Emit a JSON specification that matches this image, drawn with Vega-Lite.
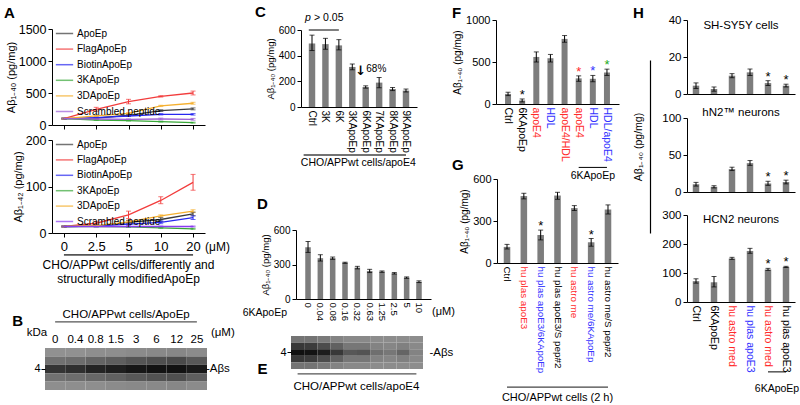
{
"$schema":"https://vega.github.io/schema/vega-lite/v6.json",
"width":800,"height":405,"autosize":{"type":"none"},"padding":0,"background":"white",
"config":{"view":{"stroke":null},"font":"Liberation Sans",
 "axis":{"grid":false,"domainColor":"#000","tickColor":"#000","labelColor":"#000","titleColor":"#000","titleFontWeight":"normal","domainWidth":1,"tickWidth":1},
 "text":{"color":"#000"}},
"datasets":{
"a40":[
{"series":"ApoEp","dose":"0","mean":100,"lo":92,"hi":108},{"series":"ApoEp","dose":"2.5","mean":108,"lo":98,"hi":118},{"series":"ApoEp","dose":"5","mean":152,"lo":142,"hi":162},{"series":"ApoEp","dose":"10","mean":225,"lo":212,"hi":238},{"series":"ApoEp","dose":"20","mean":252,"lo":237,"hi":267},
{"series":"FlagApoEp","dose":"0","mean":100,"lo":92,"hi":108},{"series":"FlagApoEp","dose":"2.5","mean":246,"lo":216,"hi":276},{"series":"FlagApoEp","dose":"5","mean":366,"lo":331,"hi":401},{"series":"FlagApoEp","dose":"10","mean":447,"lo":437,"hi":457},{"series":"FlagApoEp","dose":"20","mean":500,"lo":470,"hi":530},
{"series":"BiotinApoEp","dose":"0","mean":100,"lo":94,"hi":106},{"series":"BiotinApoEp","dose":"2.5","mean":115,"lo":108,"hi":122},{"series":"BiotinApoEp","dose":"5","mean":141,"lo":133,"hi":149},{"series":"BiotinApoEp","dose":"10","mean":167,"lo":157,"hi":177},{"series":"BiotinApoEp","dose":"20","mean":167,"lo":155,"hi":179},
{"series":"3KApoEp","dose":"0","mean":100,"lo":94,"hi":106},{"series":"3KApoEp","dose":"2.5","mean":78,"lo":72,"hi":84},{"series":"3KApoEp","dose":"5","mean":68,"lo":62,"hi":74},{"series":"3KApoEp","dose":"10","mean":52,"lo":46,"hi":58},{"series":"3KApoEp","dose":"20","mean":37,"lo":30,"hi":44},
{"series":"3DApoEp","dose":"0","mean":100,"lo":94,"hi":106},{"series":"3DApoEp","dose":"2.5","mean":141,"lo":132,"hi":150},{"series":"3DApoEp","dose":"5","mean":183,"lo":173,"hi":193},{"series":"3DApoEp","dose":"10","mean":298,"lo":288,"hi":308},{"series":"3DApoEp","dose":"20","mean":340,"lo":325,"hi":355},
{"series":"Scrambled peptide","dose":"0","mean":100,"lo":94,"hi":106},{"series":"Scrambled peptide","dose":"2.5","mean":94,"lo":88,"hi":100},{"series":"Scrambled peptide","dose":"5","mean":89,"lo":83,"hi":95},{"series":"Scrambled peptide","dose":"10","mean":94,"lo":80,"hi":108},{"series":"Scrambled peptide","dose":"20","mean":89,"lo":75,"hi":103}],
"a42":[
{"series":"ApoEp","dose":"0","mean":14,"lo":13,"hi":15},{"series":"ApoEp","dose":"2.5","mean":15,"lo":14,"hi":16},{"series":"ApoEp","dose":"5","mean":23,"lo":19,"hi":27},{"series":"ApoEp","dose":"10","mean":29,"lo":25,"hi":33},{"series":"ApoEp","dose":"20","mean":41,"lo":37,"hi":45},
{"series":"FlagApoEp","dose":"0","mean":14,"lo":13,"hi":15},{"series":"FlagApoEp","dose":"2.5","mean":21,"lo":17,"hi":25},{"series":"FlagApoEp","dose":"5","mean":39,"lo":31,"hi":47},{"series":"FlagApoEp","dose":"10","mean":70,"lo":63,"hi":78},{"series":"FlagApoEp","dose":"20","mean":109,"lo":92,"hi":126},
{"series":"BiotinApoEp","dose":"0","mean":14,"lo":13,"hi":15},{"series":"BiotinApoEp","dose":"2.5","mean":15,"lo":14,"hi":16},{"series":"BiotinApoEp","dose":"5","mean":19,"lo":17,"hi":21},{"series":"BiotinApoEp","dose":"10","mean":23,"lo":20,"hi":26},{"series":"BiotinApoEp","dose":"20","mean":33,"lo":29,"hi":37},
{"series":"3KApoEp","dose":"0","mean":14,"lo":13,"hi":15},{"series":"3KApoEp","dose":"2.5","mean":14,"lo":13,"hi":15},{"series":"3KApoEp","dose":"5","mean":13,"lo":12,"hi":14},{"series":"3KApoEp","dose":"10","mean":11,"lo":10,"hi":12},{"series":"3KApoEp","dose":"20","mean":9,"lo":8,"hi":10},
{"series":"3DApoEp","dose":"0","mean":14,"lo":13,"hi":15},{"series":"3DApoEp","dose":"2.5","mean":16,"lo":15,"hi":17},{"series":"3DApoEp","dose":"5","mean":24,"lo":22,"hi":26},{"series":"3DApoEp","dose":"10","mean":37,"lo":35,"hi":39},{"series":"3DApoEp","dose":"20","mean":47,"lo":44,"hi":50},
{"series":"Scrambled peptide","dose":"0","mean":14,"lo":13,"hi":15},{"series":"Scrambled peptide","dose":"2.5","mean":14,"lo":13,"hi":15},{"series":"Scrambled peptide","dose":"5","mean":14,"lo":13,"hi":15},{"series":"Scrambled peptide","dose":"10","mean":14,"lo":13,"hi":15},{"series":"Scrambled peptide","dose":"20","mean":14,"lo":13,"hi":15}],
"blotB":[
{"lane":"0","strip":"s1","v":0.10},{"lane":"0","strip":"s2","v":0.30},{"lane":"0","strip":"s3","v":0.70},{"lane":"0","strip":"s4","v":0.30},{"lane":"0","strip":"s5","v":0.12},
{"lane":"0.4","strip":"s1","v":0.10},{"lane":"0.4","strip":"s2","v":0.32},{"lane":"0.4","strip":"s3","v":0.74},{"lane":"0.4","strip":"s4","v":0.32},{"lane":"0.4","strip":"s5","v":0.12},
{"lane":"0.8","strip":"s1","v":0.12},{"lane":"0.8","strip":"s2","v":0.38},{"lane":"0.8","strip":"s3","v":0.82},{"lane":"0.8","strip":"s4","v":0.36},{"lane":"0.8","strip":"s5","v":0.12},
{"lane":"1.5","strip":"s1","v":0.12},{"lane":"1.5","strip":"s2","v":0.42},{"lane":"1.5","strip":"s3","v":0.86},{"lane":"1.5","strip":"s4","v":0.40},{"lane":"1.5","strip":"s5","v":0.14},
{"lane":"3","strip":"s1","v":0.14},{"lane":"3","strip":"s2","v":0.48},{"lane":"3","strip":"s3","v":0.92},{"lane":"3","strip":"s4","v":0.46},{"lane":"3","strip":"s5","v":0.15},
{"lane":"6","strip":"s1","v":0.15},{"lane":"6","strip":"s2","v":0.52},{"lane":"6","strip":"s3","v":0.95},{"lane":"6","strip":"s4","v":0.50},{"lane":"6","strip":"s5","v":0.15},
{"lane":"12","strip":"s1","v":0.16},{"lane":"12","strip":"s2","v":0.55},{"lane":"12","strip":"s3","v":0.96},{"lane":"12","strip":"s4","v":0.52},{"lane":"12","strip":"s5","v":0.16},
{"lane":"25","strip":"s1","v":0.14},{"lane":"25","strip":"s2","v":0.46},{"lane":"25","strip":"s3","v":0.90},{"lane":"25","strip":"s4","v":0.42},{"lane":"25","strip":"s5","v":0.14}],
"blotE":[
{"lane":"0","strip":"s1","v":0.22},{"lane":"0","strip":"s2","v":0.65},{"lane":"0","strip":"s3","v":0.97},{"lane":"0","strip":"s4","v":0.65},{"lane":"0","strip":"s5","v":0.22},
{"lane":"0.04","strip":"s1","v":0.22},{"lane":"0.04","strip":"s2","v":0.62},{"lane":"0.04","strip":"s3","v":0.95},{"lane":"0.04","strip":"s4","v":0.62},{"lane":"0.04","strip":"s5","v":0.22},
{"lane":"0.08","strip":"s1","v":0.18},{"lane":"0.08","strip":"s2","v":0.50},{"lane":"0.08","strip":"s3","v":0.86},{"lane":"0.08","strip":"s4","v":0.50},{"lane":"0.08","strip":"s5","v":0.18},
{"lane":"0.16","strip":"s1","v":0.12},{"lane":"0.16","strip":"s2","v":0.35},{"lane":"0.16","strip":"s3","v":0.65},{"lane":"0.16","strip":"s4","v":0.35},{"lane":"0.16","strip":"s5","v":0.12},
{"lane":"0.32","strip":"s1","v":0.08},{"lane":"0.32","strip":"s2","v":0.20},{"lane":"0.32","strip":"s3","v":0.42},{"lane":"0.32","strip":"s4","v":0.20},{"lane":"0.32","strip":"s5","v":0.08},
{"lane":"0.63","strip":"s1","v":0.08},{"lane":"0.63","strip":"s2","v":0.20},{"lane":"0.63","strip":"s3","v":0.45},{"lane":"0.63","strip":"s4","v":0.20},{"lane":"0.63","strip":"s5","v":0.08},
{"lane":"1.25","strip":"s1","v":0.06},{"lane":"1.25","strip":"s2","v":0.12},{"lane":"1.25","strip":"s3","v":0.25},{"lane":"1.25","strip":"s4","v":0.12},{"lane":"1.25","strip":"s5","v":0.06},
{"lane":"2.5","strip":"s1","v":0.06},{"lane":"2.5","strip":"s2","v":0.10},{"lane":"2.5","strip":"s3","v":0.20},{"lane":"2.5","strip":"s4","v":0.10},{"lane":"2.5","strip":"s5","v":0.06},
{"lane":"5","strip":"s1","v":0.06},{"lane":"5","strip":"s2","v":0.14},{"lane":"5","strip":"s3","v":0.32},{"lane":"5","strip":"s4","v":0.14},{"lane":"5","strip":"s5","v":0.06},
{"lane":"10","strip":"s1","v":0.05},{"lane":"10","strip":"s2","v":0.08},{"lane":"10","strip":"s3","v":0.12},{"lane":"10","strip":"s4","v":0.08},{"lane":"10","strip":"s5","v":0.05}],
"c":[{"cat":"Ctrl","mean":495,"lo":440,"hi":560},{"cat":"3K","mean":490,"lo":450,"hi":535},{"cat":"6K","mean":480,"lo":445,"hi":525},{"cat":"3KApoEp","mean":312,"lo":290,"hi":335},{"cat":"6KApoEp","mean":155,"lo":147,"hi":165},{"cat":"7KApoEp","mean":190,"lo":150,"hi":230},{"cat":"8KApoEp","mean":140,"lo":128,"hi":152},{"cat":"9KApoEp","mean":128,"lo":117,"hi":140}],
"d":[{"conc":"0","mean":450,"lo":405,"hi":500},{"conc":"0.04","mean":355,"lo":330,"hi":385},{"conc":"0.08","mean":355,"lo":345,"hi":365},{"conc":"0.16","mean":316,"lo":310,"hi":320},{"conc":"0.32","mean":273,"lo":262,"hi":284},{"conc":"0.63","mean":244,"lo":230,"hi":258},{"conc":"1.25","mean":238,"lo":232,"hi":244},{"conc":"2.5","mean":223,"lo":217,"hi":230},{"conc":"5","mean":186,"lo":180,"hi":192},{"conc":"10","mean":150,"lo":143,"hi":158}],
"f":[{"cat":"Ctrl","mean":120,"lo":100,"hi":140,"star":""},{"cat":"6KApoEp","mean":42,"lo":25,"hi":60,"star":"*"},{"cat":"apoE4","mean":560,"lo":500,"hi":620,"star":""},{"cat":"HDL","mean":545,"lo":500,"hi":590,"star":""},{"cat":"apoE4/HDL","mean":775,"lo":735,"hi":815,"star":""},{"cat":"apoE4|2","mean":305,"lo":270,"hi":335,"star":"*"},{"cat":"HDL|2","mean":300,"lo":265,"hi":340,"star":"*"},{"cat":"HDL/apoE4","mean":375,"lo":340,"hi":415,"star":"*"}],
"g":[{"cat":"Ctrl","mean":115,"lo":100,"hi":133,"star":""},{"cat":"hu plas apoE3","mean":478,"lo":458,"hi":498,"star":""},{"cat":"hu plas apoE3/6KApoEp","mean":200,"lo":165,"hi":235,"star":"*"},{"cat":"hu plas apoE3/S pep#2","mean":482,"lo":455,"hi":505,"star":""},{"cat":"hu astro me","mean":392,"lo":375,"hi":410,"star":""},{"cat":"hu astro me/6KApoEp","mean":148,"lo":120,"hi":175,"star":"*"},{"cat":"hu astro me/S pep#2","mean":382,"lo":350,"hi":415,"star":""}],
"h1":[{"cat":"Ctrl","mean":4.5,"lo":3,"hi":6,"star":""},{"cat":"6KApoEp","mean":2.7,"lo":1.5,"hi":3.8,"star":""},{"cat":"hu astro med","mean":9.9,"lo":8.8,"hi":11,"star":""},{"cat":"hu plas apoE3","mean":11.7,"lo":10,"hi":13.5,"star":""},{"cat":"hu astro med|2","mean":5.9,"lo":4.6,"hi":7.2,"star":"*"},{"cat":"hu plas apoE3|2","mean":4.5,"lo":3.8,"hi":5.3,"star":"*"}],
"h2":[{"cat":"Ctrl","mean":10.5,"lo":8,"hi":13,"star":""},{"cat":"6KApoEp","mean":7,"lo":5.5,"hi":8.5,"star":""},{"cat":"hu astro med","mean":31,"lo":29,"hi":33.5,"star":""},{"cat":"hu plas apoE3","mean":39,"lo":36,"hi":42.5,"star":""},{"cat":"hu astro med|2","mean":11.5,"lo":9,"hi":14.5,"star":"*"},{"cat":"hu plas apoE3|2","mean":13.5,"lo":11,"hi":16,"star":"*"}],
"h3":[{"cat":"Ctrl","mean":72,"lo":65,"hi":80,"star":""},{"cat":"6KApoEp","mean":68,"lo":52,"hi":88,"star":""},{"cat":"hu astro med","mean":150,"lo":147,"hi":154,"star":""},{"cat":"hu plas apoE3","mean":176,"lo":168,"hi":185,"star":""},{"cat":"hu astro med|2","mean":112,"lo":109,"hi":116,"star":"*"},{"cat":"hu plas apoE3|2","mean":121,"lo":119,"hi":123,"star":"*"}]
},
"resolve":{"scale":{"x":"independent","y":"independent","color":"independent","fill":"independent"},"axis":{"x":"independent","y":"independent"},"legend":{"color":"independent"}},
"layer":[
{"data":{"name":"a40"},
 "encoding":{"color":{"field":"series","type":"nominal","scale":{"domain":["ApoEp","FlagApoEp","BiotinApoEp","3KApoEp","3DApoEp","Scrambled peptide"],"range":["#3a3a3a","#f23c3c","#2828f0","#38a838","#f5b030","#9b5fd6"]},"legend":{"orient":"none","legendX":55,"legendY":24,"title":null,"symbolType":"stroke","symbolSize":300,"symbolStrokeWidth":1.5,"labelFontSize":10,"rowPadding":0.6,"labelOffset":3,"labelColor":"#000","padding":0}}},
 "layer":[
 {"mark":{"type":"errorbar","ticks":{"size":5},"thickness":1},
  "encoding":{"x":{"field":"dose","type":"ordinal","sort":null,"scale":{"type":"point","domain":["0","2.5","5","10","20"],"range":[52,205],"padding":0.37},"axis":{"orient":"bottom","offset":-280,"labels":false,"ticks":true,"tickSize":4,"title":null}},
   "y":{"field":"lo","type":"quantitative","title":"Aβ₁₋₄₀ (pg/mg)","scale":{"domain":[0,1500],"range":[125,29],"nice":false},"axis":{"orient":"left","offset":-52,"values":[0,500,1000,1500],"format":"d","labelFontSize":12.5,"titleFontSize":11,"tickSize":4,"titlePadding":2}},
   "y2":{"field":"hi"}}},
 {"mark":{"type":"line","strokeWidth":1.3},
  "encoding":{"x":{"field":"dose","type":"ordinal","sort":null},"y":{"field":"mean","type":"quantitative","title":"Aβ₁₋₄₀ (pg/mg)"}}},
 {"data":{"values":[{}]},"mark":{"type":"text","text":"A","fontSize":15,"fontWeight":"bold","align":"left","dx":-60},
  "encoding":{"x":{"datum":"0","type":"ordinal"},"y":{"datum":1750,"type":"quantitative"},"color":{"value":"#000"}}}
 ]},
{"data":{"name":"a42"},
 "encoding":{"color":{"field":"series","type":"nominal","scale":{"domain":["ApoEp","FlagApoEp","BiotinApoEp","3KApoEp","3DApoEp","Scrambled peptide"],"range":["#3a3a3a","#f23c3c","#2828f0","#38a838","#f5b030","#8a3cf0"]},"legend":{"orient":"none","legendX":55,"legendY":135,"title":null,"symbolType":"stroke","symbolSize":300,"symbolStrokeWidth":1.5,"labelFontSize":10,"rowPadding":0.4,"labelOffset":3,"labelColor":"#000","padding":0}}},
 "layer":[
 {"mark":{"type":"errorbar","ticks":{"size":5},"thickness":1},
  "encoding":{"x":{"field":"dose","type":"ordinal","sort":null,"scale":{"type":"point","domain":["0","2.5","5","10","20"],"range":[52,205],"padding":0.37},"axis":{"orient":"bottom","offset":-172,"labelAngle":0,"labelFontSize":13,"ticks":true,"tickSize":4,"labelPadding":3,"title":null}},
   "y":{"field":"lo","type":"quantitative","title":"Aβ₁₋₄₂ (pg/mg)","scale":{"domain":[0,200],"range":[233,140],"nice":false},"axis":{"orient":"left","offset":-52,"values":[0,100,200],"format":"d","labelFontSize":12.5,"titleFontSize":11,"tickSize":4,"titlePadding":2}},
   "y2":{"field":"hi"}}},
 {"mark":{"type":"line","strokeWidth":1.3},
  "encoding":{"x":{"field":"dose","type":"ordinal","sort":null},"y":{"field":"mean","type":"quantitative","title":"Aβ₁₋₄₂ (pg/mg)"}}},
 {"data":{"values":[{}]},"mark":{"type":"rule","color":"#555","strokeWidth":1.6},
  "encoding":{"x":{"datum":"0","type":"ordinal"},"x2":{"datum":"20"},"y":{"datum":-47,"type":"quantitative"},"color":{"value":"#555"}}},
 {"data":{"values":[{}]},"mark":{"type":"text","text":["CHO/APPwt cells/differently  and","structurally  modifiedApoEp"],"fontSize":12,"baseline":"top","lineHeight":14},
  "encoding":{"x":{"datum":"5","type":"ordinal"},"y":{"datum":-58,"type":"quantitative"},"color":{"value":"#000"}}},
 {"data":{"values":[{}]},"mark":{"type":"text","text":"(μM)","fontSize":12,"align":"left","dx":12,"baseline":"middle"},
  "encoding":{"x":{"datum":"20","type":"ordinal"},"y":{"datum":-30,"type":"quantitative"},"color":{"value":"#000"}}}
 ]},
{"data":{"name":"blotB"},"mark":{"type":"rect"},
 "encoding":{"x":{"field":"lane","type":"ordinal","sort":null,"scale":{"type":"band","domain":["0","0.4","0.8","1.5","3","6","12","25"],"range":[45,207],"paddingInner":0,"paddingOuter":0},"axis":{"orient":"top","offset":-348,"domain":false,"ticks":false,"labelPadding":4,"labelAngle":0,"labelFontSize":11.5,"title":null}},
  "y":{"field":"strip","type":"ordinal","scale":{"type":"band","domain":["s1","s2","s3","s4","s5"],"range":[348,390],"paddingInner":0,"paddingOuter":0},"axis":{"orient":"left","offset":-45,"values":["s3"],"labelExpr":"'4'","tickSize":4,"domain":false,"title":null,"labelFontSize":11,"labelPadding":1}},
  "fill":{"field":"v","type":"quantitative","scale":{"domain":[0,1],"range":["#a2a2a2","#0a0a0a"]},"legend":null}}},
{"data":{"values":[{}]},
 "encoding":{"x":{"datum":"0","type":"ordinal","scale":{"type":"band","domain":["0","0.4","0.8","1.5","3","6","12","25"],"range":[45,207],"paddingInner":0,"paddingOuter":0},"axis":null},
  "y":{"datum":1.62,"type":"quantitative","scale":{"domain":[0,1],"range":[390,348]},"axis":null}},
 "layer":[
 {"mark":{"type":"rule","color":"#555","strokeWidth":1.3},"encoding":{"x2":{"datum":"25"}}},
 {"mark":{"type":"text","text":"CHO/APPwt cells/ApoEp","fontSize":11.5,"baseline":"middle","dx":71},"encoding":{"y":{"datum":1.79,"type":"quantitative"}}},
 {"mark":{"type":"text","text":"kDa","fontSize":11.5,"baseline":"middle","align":"right","dx":-8},"encoding":{"y":{"datum":1.36,"type":"quantitative"}}},
 {"mark":{"type":"text","text":"(μM)","fontSize":11.5,"baseline":"middle","align":"left","dx":14},"encoding":{"x":{"datum":"25","type":"ordinal"},"y":{"datum":1.36,"type":"quantitative"}}},
 {"mark":{"type":"text","text":"-Aβs","fontSize":11.5,"baseline":"middle","align":"left","dx":9},"encoding":{"x":{"datum":"25","type":"ordinal"},"y":{"datum":0.5,"type":"quantitative"}}},
 {"mark":{"type":"text","text":"B","fontSize":15,"fontWeight":"bold","align":"left","dx":-43},"encoding":{"y":{"datum":1.64,"type":"quantitative"}}}
 ]},
{"data":{"name":"c"},
 "layer":[
 {"mark":{"type":"bar","color":"#7d7d7d"},
  "encoding":{"x":{"field":"cat","type":"nominal","sort":null,"scale":{"range":[301,417],"paddingInner":0.52,"paddingOuter":0.58},"axis":{"orient":"bottom","offset":-298,"labelAngle":90,"ticks":false,"labelFontSize":10,"labelPadding":3,"title":null}},
   "y":{"field":"mean","type":"quantitative","title":"Aβ₁₋₄₀ (pg/mg)","scale":{"domain":[0,600],"range":[107,30],"nice":false},"axis":{"orient":"left","offset":-301,"values":[0,200,400,600],"labelFontSize":10,"titleFontSize":9.5,"tickSize":4,"titlePadding":3}}}},
 {"mark":{"type":"errorbar","ticks":{"size":5},"color":"#000"},
  "encoding":{"x":{"field":"cat","type":"nominal","sort":null},"y":{"field":"lo","type":"quantitative","title":"Aβ₁₋₄₀ (pg/mg)"},"y2":{"field":"hi"}}},
 {"data":{"values":[{}]},"mark":{"type":"rule","color":"#000"},"encoding":{"x":{"datum":"Ctrl","type":"nominal","bandPosition":0},"x2":{"datum":"6K"},"y":{"datum":600,"type":"quantitative"}}},
 {"data":{"values":[{}]},"mark":{"type":"text","text":"p","fontSize":10.5,"fontStyle":"italic","baseline":"middle","align":"left","dx":-7},"encoding":{"x":{"datum":"Ctrl","type":"nominal"},"y":{"datum":693,"type":"quantitative"}}},
 {"data":{"values":[{}]},"mark":{"type":"text","text":"> 0.05","fontSize":10.5,"baseline":"middle","align":"left","dx":2},"encoding":{"x":{"datum":"Ctrl","type":"nominal"},"y":{"datum":693,"type":"quantitative"}}},
 {"data":{"values":[{}]},"mark":{"type":"text","text":"↓","fontSize":13,"fontWeight":"bold","font":"DejaVu Sans","baseline":"middle","align":"left","dx":3},"encoding":{"x":{"datum":"3KApoEp","type":"nominal"},"y":{"datum":280,"type":"quantitative"}}},
 {"data":{"values":[{}]},"mark":{"type":"text","text":"68%","fontSize":10,"baseline":"middle","align":"left","dx":14},"encoding":{"x":{"datum":"3KApoEp","type":"nominal"},"y":{"datum":300,"type":"quantitative"}}},
 {"data":{"values":[{}]},"mark":{"type":"rule","color":"#444","strokeWidth":1.3},"encoding":{"x":{"datum":"Ctrl","type":"nominal","bandPosition":-0.8},"x2":{"datum":"9KApoEp"},"y":{"datum":-374,"type":"quantitative"}}},
 {"data":{"values":[{}]},"mark":{"type":"text","text":"CHO/APPwt cells/apoE4","fontSize":10.5,"baseline":"middle","dx":6},"encoding":{"x":{"datum":"3KApoEp","type":"nominal"},"y":{"datum":-436,"type":"quantitative"}}},
 {"data":{"values":[{}]},"mark":{"type":"text","text":"C","fontSize":15,"fontWeight":"bold","align":"left","dx":-57},"encoding":{"x":{"datum":"Ctrl","type":"nominal"},"y":{"datum":740,"type":"quantitative"}}}
 ]},
{"data":{"name":"d"},
 "layer":[
 {"mark":{"type":"bar","color":"#7d7d7d"},
  "encoding":{"x":{"field":"conc","type":"nominal","sort":null,"scale":{"range":[296,431],"paddingInner":0.55,"paddingOuter":0.75},"axis":{"orient":"bottom","offset":-106,"labelAngle":90,"ticks":false,"labelFontSize":9.5,"labelPadding":3,"title":null}},
   "y":{"field":"mean","type":"quantitative","title":"Aβ₁₋₄₀ (pg/mg)","scale":{"domain":[0,600],"range":[299,230],"nice":false},"axis":{"orient":"left","offset":-296,"values":[0,300,600],"labelFontSize":10,"titleFontSize":9.5,"tickSize":4,"titlePadding":3}}}},
 {"mark":{"type":"errorbar","ticks":{"size":5},"color":"#000"},
  "encoding":{"x":{"field":"conc","type":"nominal","sort":null},"y":{"field":"lo","type":"quantitative","title":"Aβ₁₋₄₀ (pg/mg)"},"y2":{"field":"hi"}}},
 {"data":{"values":[{}]},"mark":{"type":"text","text":"6KApoEp","fontSize":10.5,"baseline":"middle","align":"right","dx":-21},"encoding":{"x":{"datum":"0","type":"nominal"},"y":{"datum":-122,"type":"quantitative"}}},
 {"data":{"values":[{}]},"mark":{"type":"text","text":"(μM)","fontSize":11,"baseline":"middle","align":"left","dx":13},"encoding":{"x":{"datum":"10","type":"nominal"},"y":{"datum":-115,"type":"quantitative"}}},
 {"data":{"values":[{}]},"mark":{"type":"text","text":"D","fontSize":15,"fontWeight":"bold","align":"left","dx":-51},"encoding":{"x":{"datum":"0","type":"nominal"},"y":{"datum":830,"type":"quantitative"}}}
 ]},
{"data":{"name":"blotE"},"mark":{"type":"rect"},
 "encoding":{"x":{"field":"lane","type":"ordinal","sort":null,"scale":{"type":"band","domain":["0","0.04","0.08","0.16","0.32","0.63","1.25","2.5","5","10"],"range":[291,423],"paddingInner":0,"paddingOuter":0},"axis":null},
  "y":{"field":"strip","type":"ordinal","scale":{"type":"band","domain":["s1","s2","s3","s4","s5"],"range":[336,369],"paddingInner":0,"paddingOuter":0},"axis":{"orient":"left","offset":-291,"values":["s3"],"labelExpr":"'4'","tickSize":4,"domain":false,"title":null,"labelFontSize":11,"labelPadding":1}},
  "fill":{"field":"v","type":"quantitative","scale":{"domain":[0,1],"range":["#959595","#0a0a0a"]},"legend":null}}},
{"data":{"values":[{}]},
 "encoding":{"x":{"datum":"0","type":"ordinal","scale":{"type":"band","domain":["0","0.04","0.08","0.16","0.32","0.63","1.25","2.5","5","10"],"range":[291,423],"paddingInner":0,"paddingOuter":0},"axis":null},
  "y":{"datum":-0.15,"type":"quantitative","scale":{"domain":[0,1],"range":[369,336]},"axis":null}},
 "layer":[
 {"mark":{"type":"rule","color":"#555","strokeWidth":1.3},"encoding":{"x2":{"datum":"10"}}},
 {"mark":{"type":"text","text":"CHO/APPwt cells/apoE4","fontSize":11.5,"baseline":"middle","dx":6},"encoding":{"x":{"datum":"0.32","type":"ordinal"},"y":{"datum":-0.55,"type":"quantitative"}}},
 {"mark":{"type":"text","text":"-Aβs","fontSize":11.5,"baseline":"middle","align":"left","dx":13},"encoding":{"x":{"datum":"10","type":"ordinal"},"y":{"datum":0.5,"type":"quantitative"}}},
 {"mark":{"type":"text","text":"E","fontSize":15,"fontWeight":"bold","align":"left","dx":-40},"encoding":{"y":{"datum":0,"type":"quantitative"}}}
 ]},
{"data":{"name":"f"},
 "layer":[
 {"mark":{"type":"bar","color":"#7d7d7d"},
  "encoding":{"x":{"field":"cat","type":"nominal","sort":null,"scale":{"range":[496,619],"paddingInner":0.576,"paddingOuter":0.64},"axis":{"orient":"bottom","offset":-301,"labelAngle":90,"ticks":false,"labelFontSize":10.5,"labelPadding":3,"title":null,"labelExpr":"split(datum.value,'|')[0]","labelColor":{"condition":[{"test":"indexof(datum.value,'apoE4')==0","value":"#ff2a2a"},{"test":"indexof(datum.value,'HDL')==0","value":"#3333ff"}],"value":"#000"}}},
   "y":{"field":"mean","type":"quantitative","title":"Aβ₁₋₄₀ (pg/mg)","scale":{"domain":[0,1000],"range":[104,20],"nice":false},"axis":{"orient":"left","offset":-496,"values":[0,500,1000],"format":"d","labelFontSize":11,"titleFontSize":10,"tickSize":4,"titlePadding":3}}}},
 {"mark":{"type":"errorbar","ticks":{"size":5},"color":"#000"},
  "encoding":{"x":{"field":"cat","type":"nominal","sort":null},"y":{"field":"lo","type":"quantitative","title":"Aβ₁₋₄₀ (pg/mg)"},"y2":{"field":"hi"}}},
 {"mark":{"type":"text","fontSize":13,"baseline":"alphabetic"},
  "encoding":{"x":{"field":"cat","type":"nominal","sort":null},"y":{"field":"hi","type":"quantitative"},"text":{"field":"star"},
   "color":{"condition":[{"test":"datum.cat=='apoE4|2'","value":"#ff2a2a"},{"test":"datum.cat=='HDL|2'","value":"#3333ff"},{"test":"datum.cat=='HDL/apoE4'","value":"#22aa22"}],"value":"#000"}}},
 {"data":{"values":[{}]},"mark":{"type":"rule","color":"#000"},"encoding":{"x":{"datum":"apoE4|2","type":"nominal"},"x2":{"datum":"HDL/apoE4"},"y":{"datum":-755,"type":"quantitative"}}},
 {"data":{"values":[{}]},"mark":{"type":"text","text":"6KApoEp","fontSize":10.5,"baseline":"middle"},"encoding":{"x":{"datum":"HDL|2","type":"nominal"},"y":{"datum":-860,"type":"quantitative"}}},
 {"data":{"values":[{}]},"mark":{"type":"text","text":"F","fontSize":15,"fontWeight":"bold","align":"left","dx":-56},"encoding":{"x":{"datum":"Ctrl","type":"nominal"},"y":{"datum":1083,"type":"quantitative"}}}
 ]},
{"data":{"name":"g"},
 "layer":[
 {"mark":{"type":"bar","color":"#7d7d7d"},
  "encoding":{"x":{"field":"cat","type":"nominal","sort":null,"scale":{"range":[497,618],"paddingInner":0.61,"paddingOuter":0.40},"axis":{"orient":"bottom","offset":-142,"labelAngle":90,"ticks":false,"labelFontSize":9.8,"labelPadding":3,"title":null,"labelColor":{"condition":[{"test":"datum.value=='hu plas apoE3'||datum.value=='hu astro me'","value":"#ff2a2a"},{"test":"indexof(datum.value,'6KApoEp')>0","value":"#3333ff"}],"value":"#000"}}},
   "y":{"field":"mean","type":"quantitative","title":"Aβ₁₋₄₀ (pg/mg)","scale":{"domain":[0,600],"range":[263,179],"nice":false},"axis":{"orient":"left","offset":-497,"values":[0,300,600],"labelFontSize":11,"titleFontSize":10,"tickSize":4,"titlePadding":3}}}},
 {"mark":{"type":"errorbar","ticks":{"size":5},"color":"#000"},
  "encoding":{"x":{"field":"cat","type":"nominal","sort":null},"y":{"field":"lo","type":"quantitative","title":"Aβ₁₋₄₀ (pg/mg)"},"y2":{"field":"hi"}}},
 {"mark":{"type":"text","fontSize":13,"baseline":"alphabetic"},
  "encoding":{"x":{"field":"cat","type":"nominal","sort":null},"y":{"field":"hi","type":"quantitative"},"text":{"field":"star"},"color":{"value":"#000"}}},
 {"data":{"values":[{}]},"mark":{"type":"rule","color":"#444","strokeWidth":1.3},"encoding":{"x":{"datum":"Ctrl","type":"nominal"},"x2":{"datum":"hu astro me/S pep#2"},"y":{"datum":-886,"type":"quantitative"}}},
 {"data":{"values":[{}]},"mark":{"type":"text","text":"CHO/APPwt cells (2 h)","fontSize":11,"baseline":"middle"},"encoding":{"x":{"datum":"hu plas apoE3/S pep#2","type":"nominal"},"y":{"datum":-964,"type":"quantitative"}}},
 {"data":{"values":[{}]},"mark":{"type":"text","text":"G","fontSize":15,"fontWeight":"bold","align":"left","dx":-55},"encoding":{"x":{"datum":"Ctrl","type":"nominal"},"y":{"datum":700,"type":"quantitative"}}}
 ]},
{"data":{"name":"h1"},
 "layer":[
 {"mark":{"type":"bar","color":"#7d7d7d"},
  "encoding":{"x":{"field":"cat","type":"nominal","sort":null,"scale":{"range":[687,795],"paddingInner":0.64,"paddingOuter":0.32},"axis":{"orient":"bottom","offset":-311,"labels":false,"ticks":false,"title":null}},
   "y":{"field":"mean","type":"quantitative","title":null,"scale":{"domain":[0,40],"range":[94,20],"nice":false},"axis":{"orient":"left","offset":-687,"values":[0,20,40],"labelFontSize":11.5,"tickSize":4}}}},
 {"mark":{"type":"errorbar","ticks":{"size":5},"color":"#000"},
  "encoding":{"x":{"field":"cat","type":"nominal","sort":null},"y":{"field":"lo","type":"quantitative","title":null},"y2":{"field":"hi"}}},
 {"mark":{"type":"text","fontSize":13,"baseline":"alphabetic"},
  "encoding":{"x":{"field":"cat","type":"nominal","sort":null},"y":{"field":"hi","type":"quantitative"},"text":{"field":"star"},"color":{"value":"#000"}}},
 {"data":{"values":[{}]},"mark":{"type":"text","text":"SH-SY5Y  cells","fontSize":11.5,"baseline":"middle","dx":9},"encoding":{"x":{"datum":"hu astro med","type":"nominal"},"y":{"datum":37,"type":"quantitative"}}},
 {"data":{"values":[{}]},"mark":{"type":"text","text":"H","fontSize":15,"fontWeight":"bold","align":"left","dx":-63},"encoding":{"x":{"datum":"Ctrl","type":"nominal"},"y":{"datum":43.8,"type":"quantitative"}}}
 ]},
{"data":{"name":"h2"},
 "layer":[
 {"mark":{"type":"bar","color":"#7d7d7d"},
  "encoding":{"x":{"field":"cat","type":"nominal","sort":null,"scale":{"range":[687,795],"paddingInner":0.64,"paddingOuter":0.32},"axis":{"orient":"bottom","offset":-213,"labels":false,"ticks":false,"title":null}},
   "y":{"field":"mean","type":"quantitative","title":null,"scale":{"domain":[0,100],"range":[192,118],"nice":false},"axis":{"orient":"left","offset":-687,"values":[0,50,100],"labelFontSize":11.5,"tickSize":4}}}},
 {"mark":{"type":"errorbar","ticks":{"size":5},"color":"#000"},
  "encoding":{"x":{"field":"cat","type":"nominal","sort":null},"y":{"field":"lo","type":"quantitative","title":null},"y2":{"field":"hi"}}},
 {"mark":{"type":"text","fontSize":13,"baseline":"alphabetic"},
  "encoding":{"x":{"field":"cat","type":"nominal","sort":null},"y":{"field":"hi","type":"quantitative"},"text":{"field":"star"},"color":{"value":"#000"}}},
 {"data":{"values":[{}]},"mark":{"type":"text","text":"hN2™ neurons","fontSize":11.5,"baseline":"middle","dx":9},"encoding":{"x":{"datum":"hu astro med","type":"nominal"},"y":{"datum":107,"type":"quantitative"}}}
 ]},
{"data":{"name":"h3"},
 "layer":[
 {"mark":{"type":"bar","color":"#7d7d7d"},
  "encoding":{"x":{"field":"cat","type":"nominal","sort":null,"scale":{"range":[687,795],"paddingInner":0.64,"paddingOuter":0.32},"axis":{"orient":"bottom","offset":-103,"labelAngle":90,"ticks":false,"labelFontSize":10.5,"labelPadding":3,"title":null,"labelExpr":"split(datum.value,'|')[0]","labelColor":{"condition":[{"test":"indexof(datum.value,'hu astro med')==0","value":"#ff2a2a"},{"test":"datum.value=='hu plas apoE3'","value":"#3333ff"}],"value":"#000"}}},
   "y":{"field":"mean","type":"quantitative","title":null,"scale":{"domain":[0,300],"range":[302,215],"nice":false},"axis":{"orient":"left","offset":-687,"values":[0,100,200,300],"labelFontSize":11.5,"tickSize":4}}}},
 {"mark":{"type":"errorbar","ticks":{"size":5},"color":"#000"},
  "encoding":{"x":{"field":"cat","type":"nominal","sort":null},"y":{"field":"lo","type":"quantitative","title":null},"y2":{"field":"hi"}}},
 {"mark":{"type":"text","fontSize":13,"baseline":"alphabetic"},
  "encoding":{"x":{"field":"cat","type":"nominal","sort":null},"y":{"field":"hi","type":"quantitative"},"text":{"field":"star"},"color":{"value":"#000"}}},
 {"data":{"values":[{}]},"mark":{"type":"text","text":"HCN2 neurons","fontSize":11.5,"baseline":"middle","dx":9},"encoding":{"x":{"datum":"hu astro med","type":"nominal"},"y":{"datum":283,"type":"quantitative"}}},
 {"data":{"values":[{}]},"mark":{"type":"rule","color":"#000"},"encoding":{"x":{"datum":"hu astro med|2","type":"nominal"},"x2":{"datum":"hu plas apoE3|2"},"y":{"datum":-241,"type":"quantitative"}}},
 {"data":{"values":[{}]},"mark":{"type":"text","text":"6KApoEp","fontSize":10.5,"baseline":"middle","dx":-9},"encoding":{"x":{"datum":"hu plas apoE3|2","type":"nominal"},"y":{"datum":-300,"type":"quantitative"}}}
 ]},
{"data":{"values":[{}]},"mark":{"type":"text","text":""},
 "encoding":{"y":{"datum":0,"type":"quantitative","scale":{"domain":[0,1],"range":[233,60]},"axis":{"orient":"left","offset":-650,"labels":false,"ticks":false,"domain":true,"title":"Aβ₁₋₄₀ (pg/mg)","titleFontSize":10.5,"titlePadding":7,"domainWidth":1.2}}}}
]
}
